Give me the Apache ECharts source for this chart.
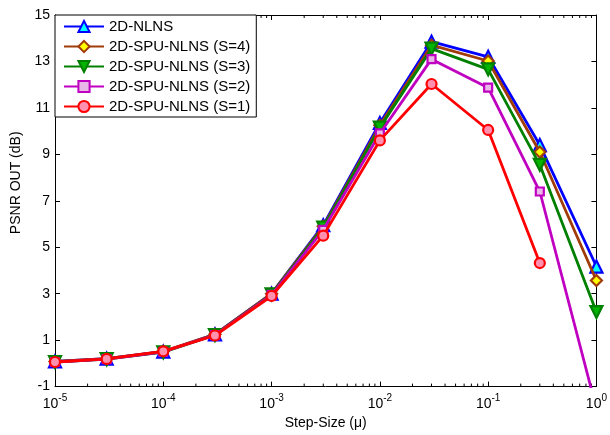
<!DOCTYPE html>
<html>
<head>
<meta charset="utf-8">
<script src="https://cdn.jsdelivr.net/npm/echarts@6/dist/echarts.min.js"></script>
<style>html,body{margin:0;padding:0;background:#fff;}#c{width:610px;height:435px;}</style>
</head>
<body>
<div id="c"></div>
<script>
// ---- data ----
var stepSizes = [1e-5, 3e-5, 1e-4, 3e-4, 1e-3, 3e-3, 1e-2, 3e-2, 1e-1, 3e-1, 1];
var seriesNames = ['2D-NLNS', '2D-SPU-NLNS (S=4)', '2D-SPU-NLNS (S=3)', '2D-SPU-NLNS (S=2)', '2D-SPU-NLNS (S=1)'];
var nlns = [0.08, 0.20, 0.50, 1.25, 3.00, 5.95, 10.35, 13.85, 13.20, 9.40, 4.17];
var spuS4 = [0.08, 0.20, 0.52, 1.25, 3.00, 5.90, 10.25, 13.70, 13.02, 9.10, 3.57];
var spuS3 = [0.06, 0.18, 0.48, 1.22, 2.97, 5.85, 10.15, 13.55, 12.66, 8.55, 2.21];
var spuS2 = [0.06, 0.18, 0.50, 1.22, 2.95, 5.75, 9.90, 13.10, 11.87, 7.40, -1.95];
var spuS1 = [0.06, 0.19, 0.52, 1.20, 2.90, 5.50, 9.60, 12.03, 10.05, 4.32, null];
var yTicks = [-1, 1, 3, 5, 7, 9, 11, 13, 15];
var xMinorTicks = [];
[-5, -4, -3, -2, -1].forEach(function (d) {
  for (var m = 2; m <= 9; m++) xMinorTicks.push(m * Math.pow(10, d));
});

var FONT = '"Liberation Sans", Arial, sans-serif';
var YMIN = -1, YMAX = 15;

function pairs(ys) {
  return stepSizes.map(function (x, i) { return [x, ys[i]]; });
}

var styles = [
  { data: nlns,  color: '#0000FF', fill: '#00FFFF', symbol: 'triangle', size: 12, rot: 0 },
  { data: spuS4, color: '#A03C0A', fill: '#FFFF00', symbol: 'diamond',  size: 11, rot: 0 },
  { data: spuS3, color: '#008000', fill: '#00B400', symbol: 'triangle', size: 12, rot: 180 },
  { data: spuS2, color: '#C000C0', fill: '#E8B8E8', symbol: 'rect',     size: 8,  rot: 0 },
  { data: spuS1, color: '#FF0000', fill: '#FF90B0', symbol: 'circle',   size: 10, rot: 0 }
];

var series = styles.map(function (s, i) {
  return {
    name: seriesNames[i],
    type: 'line',
    xAxisIndex: 0, yAxisIndex: 0,
    data: pairs(s.data),
    symbol: s.symbol,
    symbolSize: s.size,
    symbolRotate: s.rot,
    showAllSymbol: true,
    connectNulls: false,
    clip: true,
    lineStyle: { color: s.color, width: 2.8 },
    itemStyle: { color: s.fill, borderColor: s.color, borderWidth: 2.2 },
    emphasis: { disabled: true },
    animation: false,
    z: 3 + i
  };
});

// minor ticks on log axis (top & bottom), drawn via axis scale
series.push({
  type: 'custom',
  xAxisIndex: 0, yAxisIndex: 0,
  silent: true,
  animation: false,
  z: 1,
  data: xMinorTicks.map(function (v) { return [v, 0]; }),
  renderItem: function (params, api) {
    var v = api.value(0);
    var pb = api.coord([v, YMIN]);
    var pt = api.coord([v, YMAX]);
    var st = { stroke: '#000', lineWidth: 1 };
    return {
      type: 'group',
      children: [
        { type: 'line', shape: { x1: pb[0], y1: pb[1], x2: pb[0], y2: pb[1] - 3 }, style: st },
        { type: 'line', shape: { x1: pt[0], y1: pt[1], x2: pt[0], y2: pt[1] + 3 }, style: st }
      ]
    };
  }
});

var axisLineStyle = { show: true, onZero: false, lineStyle: { color: '#000', width: 1 } };

var option = {
  animation: false,
  backgroundColor: '#fff',
  grid: { left: 55, top: 15, width: 543, height: 372, containLabel: false },
  legend: {
    data: seriesNames,
    orient: 'vertical',
    left: 55, top: 15,
    backgroundColor: '#fff',
    borderColor: '#000',
    borderWidth: 1,
    padding: [4, 6, 3, 8],
    itemGap: 5,
    itemWidth: 40,
    itemHeight: 14,
    selectedMode: false,
    textStyle: { fontFamily: FONT, fontSize: 15, color: '#000' }
  },
  xAxis: [
    {
      type: 'log', logBase: 10, min: 1e-5, max: 1, position: 'bottom',
      axisLine: axisLineStyle,
      axisTick: { show: true, inside: true, length: 5, lineStyle: { color: '#000' } },
      splitLine: { show: false },
      axisLabel: {
        margin: 7,
        color: '#000',
        fontFamily: FONT,
        formatter: function (v) {
          var e = Math.round(Math.log10(v));
          return '{b|10}{s|' + e + '}';
        },
        rich: {
          b: { fontSize: 14, fontFamily: FONT, color: '#000' },
          s: { fontSize: 10, fontFamily: FONT, color: '#000', padding: [0, 0, 11, 0] }
        }
      },
      name: 'Step-Size (\u03bc)',
      nameLocation: 'middle',
      nameGap: 29,
      nameTextStyle: { fontFamily: FONT, fontSize: 14, color: '#000' }
    },
    {
      type: 'log', logBase: 10, min: 1e-5, max: 1, position: 'top',
      axisLine: axisLineStyle,
      axisTick: { show: true, inside: true, length: 5, lineStyle: { color: '#000' } },
      splitLine: { show: false },
      axisLabel: { show: false }
    }
  ],
  yAxis: [
    {
      type: 'value', min: YMIN, max: YMAX, position: 'left',
      axisLine: axisLineStyle,
      axisTick: { show: true, inside: true, length: 5, customValues: yTicks, lineStyle: { color: '#000' } },
      splitLine: { show: false },
      axisLabel: { customValues: yTicks, margin: 5, color: '#000', fontFamily: FONT, fontSize: 14 },
      name: 'PSNR OUT (dB)',
      nameLocation: 'middle',
      nameRotate: 90,
      nameGap: 28,
      nameTextStyle: { fontFamily: FONT, fontSize: 14, color: '#000', padding: [0, 0, 0, 36] }
    },
    {
      type: 'value', min: YMIN, max: YMAX, position: 'right',
      axisLine: axisLineStyle,
      axisTick: { show: true, inside: true, length: 5, customValues: yTicks, lineStyle: { color: '#000' } },
      splitLine: { show: false },
      axisLabel: { show: false }
    }
  ],
  series: series
};

var chart = echarts.init(document.getElementById('c'), null, { renderer: 'canvas' });
chart.setOption(option);
</script>
</body>
</html>
